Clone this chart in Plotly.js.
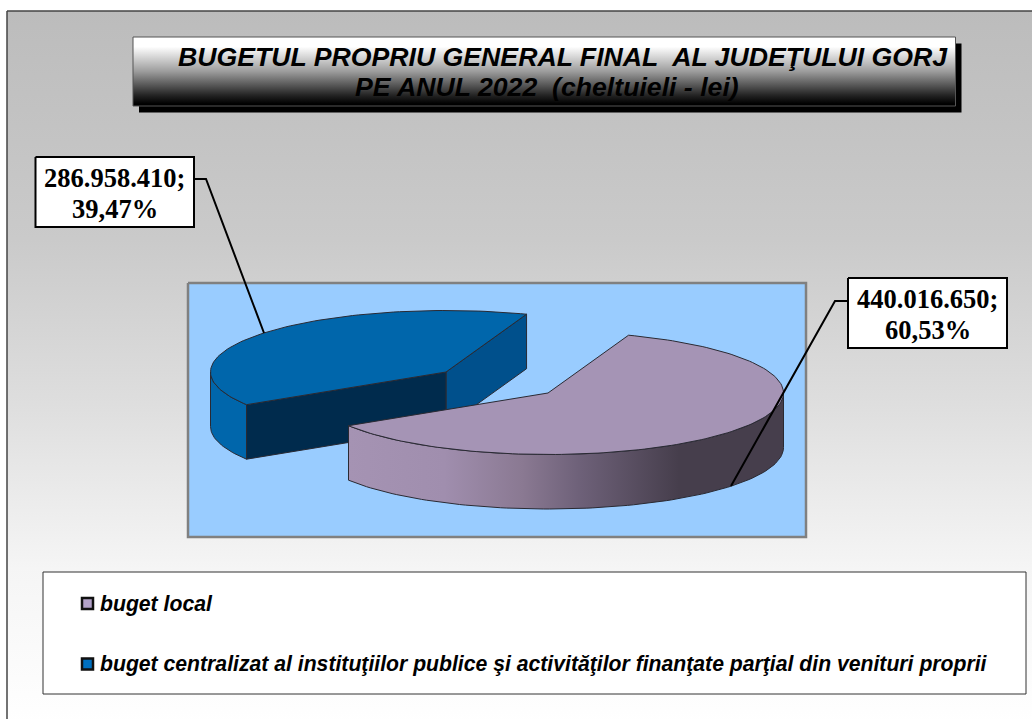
<!DOCTYPE html>
<html>
<head>
<meta charset="utf-8">
<script src="https://cdn.plot.ly/plotly-3.0.1.min.js"></script>
<style>html,body{margin:0;padding:0;background:#fff;overflow:hidden}#c{width:1032px;height:719px}</style>
</head>
<body>
<div id="c"></div>
<script>
// ---- data ----
const categories = ["buget local", "buget centralizat al instituţiilor publice şi activităţilor finanţate parţial din venituri proprii"];
const values = [440016650, 286958410];
const shareLabels = ["60,53%", "39,47%"];
const titleLines = ["BUGETUL PROPRIU GENERAL FINAL\u00a0 AL JUDEŢULUI GORJ", "PE ANUL 2022\u00a0 (cheltuieli - lei)"];

// ---- styling ---- (vertical gradients run bottom to top)
const C = {
  bg: [[0,"#ffffff"],[0.22,"#f5f5f5"],[0.45,"#dedede"],[0.68,"#cacaca"],[1,"#bcbcbc"]],
  titleGrad: [[0,"#000000"],[0.03,"#000000"],[0.15,"#222222"],[0.5,"#9c9c9c"],[0.86,"#ffffff"],[1,"#ffffff"]],
  plot: "#99ccff",
  lilacTop: "#a594b5",
  lilacWall: [[0,"#a593b3"],[0.22,"#a08eae"],[0.4,"#8a7992"],[0.53,"#6e6179"],[0.76,"#463e4c"],[1,"#463e4c"]],
  blueTop: "#0066ab", blueWall: "#0066ab", blueCutA: "#00508c", blueCutB: "#002b4d",
  edge: "#2a2a33", swatch: ["#b3a2c9", "#0070c0"]
};
const G = {
  rx: 235.5, ry: 61.5, depth: 54.5, start: -70,
  centers: [[548, 393], [446, 372]],
  frame: [7, 11], titleBox: [133, 37, 955.5, 106], shadow: [6, 6.5],
  plotBox: [188, 283, 806, 537],
  legendBox: [43, 572, 1026, 694],
  legendRows: [603.5, 664], legendX: 87.5, legendTextX: 98,
  labelBoxes: [[848, 278, 1007, 348], [35.5, 157, 194, 227]],
  leaders: [[[848, 731],[835, 835],[301, 486]], [[194, 264],[206, 206],[179, 333]]]
};

// ---- geometry from the values ----
const total = values.reduce((a, b) => a + b, 0);
const spans = values.map(v => v / total * 360);
const angles = [[G.start, G.start + spans[0]], [G.start + spans[0], G.start + spans[0] + spans[1]]];
const rad = d => d * Math.PI / 180;
function arc(c, a0, a1, dz) {
  const n = Math.max(2, Math.ceil(Math.abs(a1 - a0) / 1.5)), xs = [], ys = [];
  for (let i = 0; i <= n; i++) {
    const t = rad(a0 + (a1 - a0) * i / n);
    xs.push(c[0] + G.rx * Math.cos(t));
    ys.push(c[1] + G.ry * Math.sin(t) + (dz || 0));
  }
  return [xs, ys];
}
function poly(x, y, fill, extra) {
  return Object.assign({
    x: x.concat([x[0]]), y: y.concat([y[0]]), mode: "lines", fill: "toself", fillcolor: fill,
    line: { width: 0 }, hoverinfo: "skip", showlegend: false
  }, extra || {});
}
const rect = (b, fill, extra) => poly([b[0], b[2], b[2], b[0]], [b[1], b[1], b[3], b[3]], fill, extra);
const edge = { color: C.edge, width: 1 };

function wall(c, a0, a1, fill, extra) {
  const t = arc(c, a0, a1), b = arc(c, a1, a0, G.depth);
  return poly(t[0].concat(b[0]), t[1].concat(b[1]), fill, Object.assign({ line: edge }, extra || {}));
}
function cut(c, a, fill) {
  const p = arc(c, a, a);
  const px = p[0][0], py = p[1][0];
  return poly([c[0], px, px, c[0]], [c[1], py, py + G.depth, c[1] + G.depth], fill, { line: edge });
}
function topFace(c, a0, a1, fill) {
  const t = arc(c, a0, a1);
  return poly([c[0]].concat(t[0]), [c[1]].concat(t[1]), fill, { line: edge });
}

const traces = [];
// page background + frame
traces.push(rect([G.frame[0], G.frame[1], 1040, 725], "#cccccc", {
  fillgradient: { type: "vertical", colorscale: C.bg }, line: { width: 0 } }));
// title box
const tb = G.titleBox;
traces.push(rect([tb[0] + G.shadow[0], tb[1] + G.shadow[1], tb[2] + G.shadow[0], tb[3] + G.shadow[1]], "#000000"));
traces.push(rect(tb, "#888888", { fillgradient: { type: "vertical", colorscale: C.titleGrad }, line: { color: "#555555", width: 1 } }));
// plot area
traces.push(rect(G.plotBox, C.plot, { line: { color: "#808080", width: 2.5 } }));
// blue slice (behind)
const bc = G.centers[1], ba = angles[1];
traces.push(cut(bc, ba[1], C.blueCutA));
traces.push(wall(bc, ba[0], 180, C.blueWall));
traces.push(cut(bc, ba[0], C.blueCutB));
traces.push(topFace(bc, ba[0], ba[1], C.blueTop));
// lilac slice (front)
const lc = G.centers[0], la = angles[0];
traces.push(wall(lc, 0, la[1], "#7a6a85", { fillgradient: { type: "horizontal", colorscale: C.lilacWall } }));
traces.push(topFace(lc, la[0], la[1], C.lilacTop));
// leaders
G.leaders.forEach(l => traces.push({ x: [l[0][0], l[1][0], l[0][1]], y: [l[2][0], l[2][0], l[2][1]], mode: "lines",
  line: { color: "#000", width: 2 }, hoverinfo: "skip", showlegend: false }));
// legend box + swatches
traces.push(rect(G.legendBox, "#ffffff", { line: { color: "#333333", width: 1 } }));
categories.forEach((cat, i) => traces.push({
  x: [G.legendX], y: [G.legendRows[i]], mode: "markers", name: cat,
  marker: { symbol: "square", size: 11, color: C.swatch[i], line: { color: "#111", width: 2.5 } },
  hoverinfo: "skip", showlegend: false, cliponaxis: false
}));
// label boxes
G.labelBoxes.forEach(b => traces.push(rect(b, "#ffffff", { line: { color: "#000", width: 2 } })));

// value labels
const fmt = v => String(v).replace(/\B(?=(\d{3})+$)/g, ".");
const serif = { family: "Liberation Serif", size: 26.5, color: "#000", weight: "bold" };
const ann = [];
function label(x, y, text, font, anchor) {
  ann.push({ x, y, text, font, xref: "x", yref: "y", showarrow: false, xanchor: anchor || "center", yanchor: "middle" });
}
values.forEach((v, i) => {
  const b = G.labelBoxes[i], mx = (b[0] + b[2]) / 2;
  label(mx, b[1] + 21, fmt(v) + ";", serif);
  label(mx, b[1] + 52, shareLabels[i], serif);
});
const tf = { family: "Liberation Sans", size: 26.67, color: "#000", style: "italic", weight: "bold" };
label(562.5, 57, titleLines[0], tf);
label(546.5, 87, titleLines[1], tf);
const lf = { family: "Liberation Sans", size: 21.2, color: "#000", style: "italic", weight: "bold" };
categories.forEach((cat, i) => label(G.legendTextX, G.legendRows[i], cat, lf, "left"));

const layout = {
  width: 1032, height: 719, margin: { l: 0, r: 0, t: 0, b: 0 }, paper_bgcolor: "#ffffff", plot_bgcolor: "rgba(0,0,0,0)",
  xaxis: { range: [0, 1032], visible: false, fixedrange: true },
  yaxis: { range: [719, 0], visible: false, fixedrange: true },
  showlegend: false, annotations: ann,
  shapes: [
    { type: "line", xref: "x", yref: "y", x0: G.frame[0], x1: G.frame[0], y0: G.frame[1], y1: 719, line: { color: "#444", width: 1.5 }, layer: "above" },
    { type: "line", xref: "x", yref: "y", x0: G.frame[0], x1: 1032, y0: G.frame[1], y1: G.frame[1], line: { color: "#444", width: 1.5 }, layer: "above" }
  ]
};
Plotly.newPlot("c", traces, layout, { displayModeBar: false, staticPlot: true });
</script>
</body>
</html>
